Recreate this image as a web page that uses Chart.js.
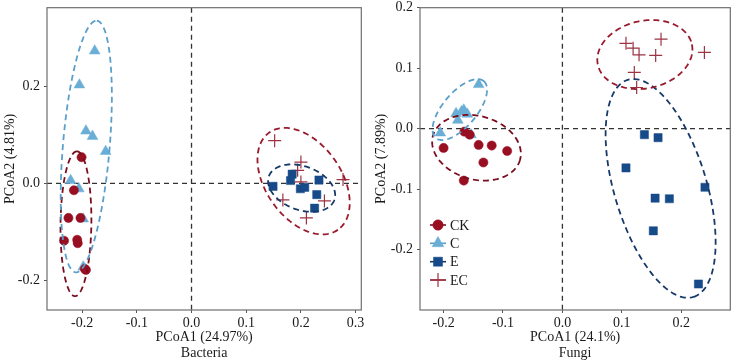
<!DOCTYPE html>
<html>
<head>
<meta charset="utf-8">
<script src="https://cdn.jsdelivr.net/npm/chart.js@4.4.1/dist/chart.umd.min.js"></script>
<style>
  html, body { margin: 0; padding: 0; background: #fff; }
  #wrap { position: relative; width: 738px; height: 362px; }
  canvas { position: absolute; top: 0; }
  #bac { left: 0; }
  #fun { left: 369px; }
</style>
</head>
<body>
<div id="wrap">
  <canvas id="bac" width="369" height="362"></canvas>
  <canvas id="fun" width="369" height="362"></canvas>
</div>
<script>
// Groups / legend labels
const groups = ['CK', 'C', 'E', 'EC'];

// Bacteria PCoA scores [PCoA1, PCoA2]
const bacteriaCK = [[-0.201, 0.054], [-0.215, -0.014], [-0.225, -0.071], [-0.203, -0.071],
    [-0.233, -0.118], [-0.209, -0.116], [-0.208, -0.123], [-0.195, -0.176], [-0.193, -0.178]];
const bacteriaC = [[-0.177, 0.273], [-0.205, 0.203], [-0.193, 0.108], [-0.181, 0.097],
    [-0.157, 0.066], [-0.221, 0.006], [-0.206, -0.011], [-0.198, -0.073], [-0.198, -0.172]];
const bacteriaE = [[0.184, 0.019], [0.181, 0.006], [0.149, -0.006], [0.199, -0.011],
    [0.207, -0.008], [0.233, 0.007], [0.229, -0.023], [0.225, -0.051]];
const bacteriaEC = [[0.152, 0.088], [0.200, 0.044], [0.194, 0.027], [0.200, 0.003],
    [0.277, 0.008], [0.167, -0.034], [0.243, -0.036], [0.210, -0.071]];

// Fungi PCoA scores
const fungiCK = [[-0.200, -0.032], [-0.165, -0.005], [-0.156, -0.010], [-0.141, -0.027],
    [-0.119, -0.028], [-0.093, -0.037], [-0.133, -0.056], [-0.166, -0.086]];
const fungiC = [[-0.141, 0.073], [-0.179, 0.025], [-0.170, 0.028], [-0.160, 0.024],
    [-0.176, 0.014], [-0.166, 0.031], [-0.2055, -0.007], [-0.154, -0.010]];
const fungiE = [[0.138, -0.010], [0.161, -0.015], [0.107, -0.065], [0.156, -0.115],
    [0.180, -0.116], [0.153, -0.169], [0.240, -0.097], [0.229, -0.257]];
const fungiEC = [[0.107, 0.141], [0.119, 0.133], [0.129, 0.122], [0.166, 0.148],
    [0.157, 0.121], [0.121, 0.093], [0.125, 0.068], [0.239, 0.126]];

// Confidence ellipses: [centre x, centre y, axis A x, axis A y, axis B x, axis B y]
const bacteriaEllipseCK = [-0.2113, -0.083, 0.0017, 0.149, 0.0282, 0];
const bacteriaEllipseC = [-0.1924, 0.076, 0.0193, 0.259, 0.0426, -0.004];
const bacteriaEllipseE = [0.2013, -0.0096, 0.0598, -0.0245, -0.0136, -0.0422];
const bacteriaEllipseEC = [0.2049, 0.0047, 0.0626, -0.1002, -0.0565, -0.0445];
const fungiEllipseCK = [-0.1446, -0.0316, 0.0734, -0.0195, -0.0137, -0.0507];
const fungiEllipseC = [-0.1727, 0.0315, 0.0405, 0.0469, 0.0215, -0.0184];
const fungiEllipseE = [0.1653, -0.0989, 0.0554, -0.1795, 0.0742, 0.0226];
const fungiEllipseEC = [0.1388, 0.1225, 0.0792, 0.0167, 0.0117, -0.0546];

// Axis ticks
const bacteriaXTicks = [-0.2, -0.1, 0.0, 0.1, 0.2, 0.3];
const bacteriaYTicks = [-0.2, 0.0, 0.2];
const fungiXTicks = [-0.2, -0.1, 0.0, 0.1, 0.2];
const fungiYTicks = [-0.2, -0.1, 0.0, 0.1, 0.2];

// Styles per group
const style = {
    CK: { pointStyle: 'circle', radius: 4.6, color: '#990f22', ellipse: '#7a0e1f' },
    C:  { pointStyle: 'triangle', radius: 6.2, color: '#6aaed6', ellipse: '#5b9fcb' },
    E:  { pointStyle: 'rect', radius: 5.8, color: '#174a88', ellipse: '#17396a' },
    EC: { pointStyle: 'cross', radius: 6.5, color: '#9b3343', ellipse: '#981a2c' }
};

const FONT = "'Liberation Serif', 'Times New Roman', serif";
const TEXT = '#1a1a1a';
Chart.defaults.font.family = FONT;
Chart.defaults.color = TEXT;

function makeDataset(name, pts) {
    const s = style[name];
    return {
        label: name,
        data: pts.map(p => ({ x: p[0], y: p[1] })),
        pointStyle: s.pointStyle,
        pointRadius: s.radius,
        pointBackgroundColor: s.color,
        pointBorderColor: s.color,
        pointBorderWidth: s.pointStyle === 'cross' ? 1.2 : 0.5,
        showLine: false
    };
}

// dashed zero reference lines
const zeroLines = {
    id: 'zeroLines',
    beforeDatasetsDraw(chart) {
        const { ctx, chartArea: a, scales: { x, y } } = chart;
        ctx.save();
        ctx.strokeStyle = '#333';
        ctx.lineWidth = 1.3;
        ctx.setLineDash([5, 4]);
        const px = x.getPixelForValue(0), py = y.getPixelForValue(0);
        ctx.beginPath();
        ctx.moveTo(px, a.top); ctx.lineTo(px, a.bottom);
        ctx.moveTo(a.left, py); ctx.lineTo(a.right, py);
        ctx.stroke();
        ctx.restore();
    }
};

// ellipses drawn through the scales
const ellipses = {
    id: 'ellipses',
    afterDatasetsDraw(chart, args, opts) {
        const { ctx, chartArea: a, scales: { x, y } } = chart;
        ctx.save();
        ctx.beginPath();
        ctx.rect(a.left, a.top, a.right - a.left, a.bottom - a.top);
        ctx.clip();
        ctx.lineWidth = 1.8;
        ctx.setLineDash([6, 4]);
        (opts.list || []).forEach(item => {
            const e = item.params;
            ctx.strokeStyle = style[item.group].ellipse;
            ctx.beginPath();
            for (let i = 0; i <= 160; i++) {
                const t = i / 160 * Math.PI * 2;
                const vx = e[0] + e[2] * Math.cos(t) + e[4] * Math.sin(t);
                const vy = e[1] + e[3] * Math.cos(t) + e[5] * Math.sin(t);
                const px = x.getPixelForValue(vx), py = y.getPixelForValue(vy);
                if (i === 0) ctx.moveTo(px, py); else ctx.lineTo(px, py);
            }
            ctx.stroke();
        });
        ctx.restore();
    }
};

// panel border
const frame = {
    id: 'frame',
    afterDraw(chart) {
        const { ctx, chartArea: a } = chart;
        ctx.save();
        ctx.strokeStyle = '#6e6e6e';
        ctx.lineWidth = 1.2;
        ctx.strokeRect(a.left, a.top, a.right - a.left, a.bottom - a.top);
        ctx.restore();
    }
};

// legend inside the fungi panel (bottom-left)
const insideLegend = {
    id: 'insideLegend',
    afterDraw(chart, args, opts) {
        if (!opts.show) return;
        const { ctx, chartArea: a } = chart;
        const offsets = [85, 66.7, 48.3, 30];
        ctx.save();
        groups.forEach((g, i) => {
            const s = style[g];
            const cx = a.left + 18, cy = a.bottom - offsets[i];
            ctx.strokeStyle = s.ellipse;
            ctx.lineWidth = 1.6;
            ctx.setLineDash([]);
            ctx.beginPath();
            ctx.moveTo(cx - 8, cy); ctx.lineTo(cx + 8, cy);
            ctx.stroke();
            ctx.fillStyle = s.color;
            ctx.strokeStyle = s.color;
            ctx.lineWidth = s.pointStyle === 'cross' ? 1.2 : 0.5;
            Chart.helpers.drawPoint(ctx, { pointStyle: s.pointStyle, radius: s.radius + 0.6, rotation: 0, borderWidth: ctx.lineWidth }, cx, cy);
            ctx.fillStyle = TEXT;
            ctx.font = '14px ' + FONT;
            ctx.textBaseline = 'middle';
            ctx.textAlign = 'left';
            ctx.fillText(g, a.left + 30, cy + 1);
        });
        ctx.restore();
    }
};

function scaleOptions(isX, min, max, ticks, title, size, titlePad) {
    return {
        type: 'linear',
        min: min,
        max: max,
        afterBuildTicks: scale => { scale.ticks = ticks.map(v => ({ value: v })); },
        afterFit: scale => {
            if (isX) { scale.height = size; scale.paddingLeft = 0; scale.paddingRight = 0; }
            else { scale.width = size; scale.paddingTop = 0; scale.paddingBottom = 0; }
        },
        grid: { display: true, drawOnChartArea: false, tickLength: 3, color: '#555', tickWidth: 1 },
        border: { display: false },
        ticks: {
            font: { size: 14, family: FONT },
            color: TEXT,
            padding: isX ? 2 : 4,
            maxRotation: 0,
            autoSkip: false,
            callback: v => v.toFixed(1)
        },
        title: {
            display: true,
            text: title,
            color: TEXT,
            font: { size: 14, family: FONT, lineHeight: 16 / 14 },
            padding: titlePad
        }
    };
}

function buildChart(id, sets, ells, sc, pad, legend) {
    return new Chart(document.getElementById(id), {
        type: 'scatter',
        data: {
            datasets: groups.map((g, i) => makeDataset(g, sets[i]))
        },
        options: {
            responsive: false,
            animation: false,
            devicePixelRatio: 1,
            layout: { padding: pad },
            plugins: {
                legend: { display: false },
                tooltip: { enabled: false },
                ellipses: { list: groups.map((g, i) => ({ group: g, params: ells[i] })) },
                insideLegend: { show: legend }
            },
            scales: sc
        },
        plugins: [zeroLines, ellipses, frame, insideLegend]
    });
}

buildChart('bac',
    [bacteriaCK, bacteriaC, bacteriaE, bacteriaEC],
    [bacteriaEllipseCK, bacteriaEllipseC, bacteriaEllipseE, bacteriaEllipseEC],
    {
        x: scaleOptions(true, -0.2642, 0.3104, bacteriaXTicks, ['PCoA1 (24.97%)', 'Bacteria'], 52, { top: 0, bottom: 1 }),
        y: scaleOptions(false, -0.2606, 0.3618, bacteriaYTicks, 'PCoA2 (4.81%)', 47, { top: 2, bottom: 0 })
    },
    { top: 5, right: 6, left: 0, bottom: 0 }, false);

buildChart('fun',
    [fungiCK, fungiC, fungiE, fungiEC],
    [fungiEllipseCK, fungiEllipseC, fungiEllipseE, fungiEllipseEC],
    {
        x: scaleOptions(true, -0.2397, 0.2826, fungiXTicks, ['PCoA1 (24.1%)', 'Fungi'], 52, { top: 0, bottom: 1 }),
        y: scaleOptions(false, -0.3, 0.2, fungiYTicks, 'PCoA2 (7.89%)', 51, { top: 4, bottom: 0 })
    },
    { top: 5, right: 2, left: 0, bottom: 0 }, true);
</script>
</body>
</html>
